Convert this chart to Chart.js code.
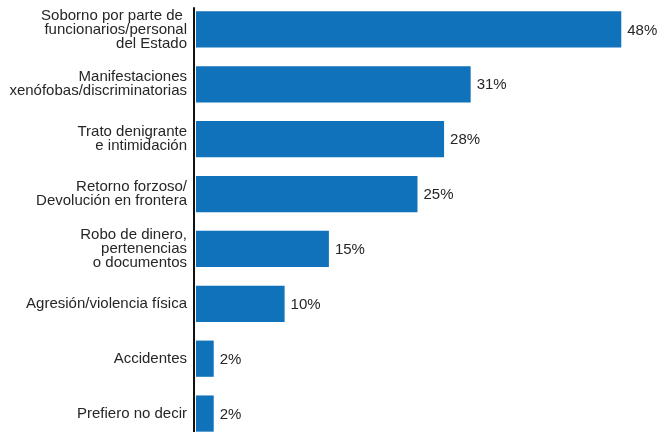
<!DOCTYPE html>
<html>
<head>
<meta charset="utf-8">
<script src="https://cdn.jsdelivr.net/npm/chart.js@4/dist/chart.umd.min.js"></script>
<style>
  html, body { margin: 0; padding: 0; background: #ffffff; overflow: hidden; }
  #wrap { position: relative; width: 659px; height: 441px; }
</style>
</head>
<body>
<div id="wrap"><canvas id="c"></canvas></div>
<script>
const categories = [
  ["Soborno por parte de ", "funcionarios/personal", "del Estado"],
  ["Manifestaciones", "xenófobas/discriminatorias"],
  ["Trato denigrante", "e intimidación"],
  ["Retorno forzoso/", "Devolución en frontera"],
  ["Robo de dinero,", "pertenencias", "o documentos"],
  "Agresión/violencia física",
  "Accidentes",
  "Prefiero no decir"
];
const values = [48, 31, 28, 25, 15, 10, 2, 2];
const valueLabels = ["48%", "31%", "28%", "25%", "15%", "10%", "2%", "2%"];

const FONT = "'Liberation Sans', Arial, sans-serif";
const TEXT = "#262626";
const BLUE = "#1072ba";

const valueLabelPlugin = {
  id: "valueLabels",
  afterDatasetsDraw(chart) {
    const ctx = chart.ctx;
    const meta = chart.getDatasetMeta(0);
    ctx.save();
    ctx.font = "15px " + FONT;
    ctx.fillStyle = TEXT;
    ctx.textAlign = "left";
    ctx.textBaseline = "middle";
    meta.data.forEach((bar, i) => {
      ctx.fillText(valueLabels[i], bar.x + 6, bar.y + 1);
    });
    ctx.restore();
  }
};

const axisLinePlugin = {
  id: "axisLine",
  afterDatasetsDraw(chart) {
    const ctx = chart.ctx;
    const xs = chart.scales.x;
    const meta = chart.getDatasetMeta(0);
    const first = meta.data[0];
    const x0 = xs.getPixelForValue(0) - 2;
    const top = first.y - first.height / 2 - 4;
    ctx.save();
    ctx.strokeStyle = "#111111";
    ctx.lineWidth = 2;
    ctx.beginPath();
    ctx.moveTo(x0, top);
    ctx.lineTo(x0, chart.height);
    ctx.stroke();
    ctx.restore();
  }
};

new Chart(document.getElementById("c"), {
  type: "bar",
  data: {
    labels: categories,
    datasets: [{
      data: values,
      backgroundColor: BLUE,
      borderWidth: 0,
      barPercentage: 0.66,
      categoryPercentage: 1.0
    }]
  },
  options: {
    indexAxis: "y",
    responsive: true,
    maintainAspectRatio: false,
    animation: false,
    layout: { padding: { top: 2, right: 20, bottom: 0, left: 0 } },
    plugins: {
      legend: { display: false },
      tooltip: { enabled: false }
    },
    scales: {
      x: {
        display: false,
        min: 0,
        max: 50
      },
      y: {
        grid: { display: false, drawTicks: false },
        border: { display: false },
        ticks: {
          color: TEXT,
          padding: 9,
          font: { family: FONT, size: 15, lineHeight: 0.93 }
        },
        afterFit(scale) {
          scale.width = 196;
          scale.paddingTop = 0;
          scale.paddingBottom = 0;
        }
      }
    }
  },
  plugins: [valueLabelPlugin, axisLinePlugin]
});
</script>
</body>
</html>
